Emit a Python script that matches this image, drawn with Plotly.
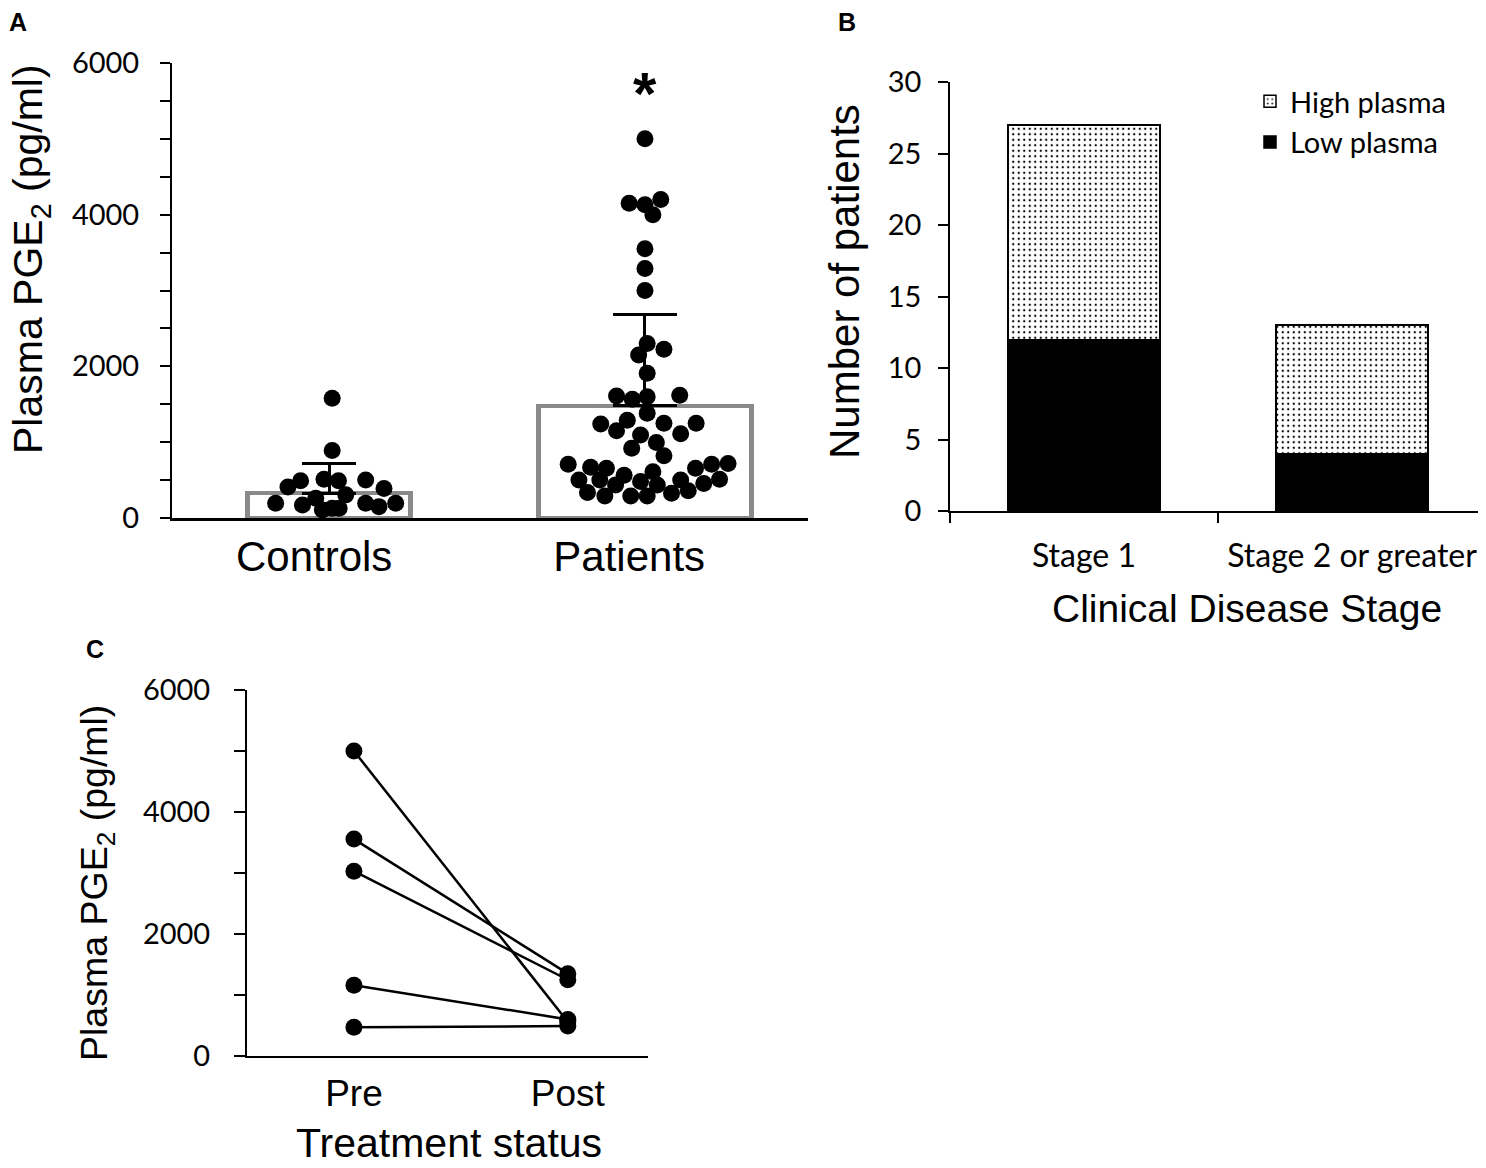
import plotly.graph_objects as go

# --- Panel A: plasma PGE2 in controls and patients ---
GROUPS = ["Controls", "Patients"]
BAR_MEAN = [328, 1478]
BAR_SEM = [392, 1210]

CONTROLS_PGE2 = [1580, 890, 410, 490, 510, 490, 500, 390, 195, 170,
                 260, 305, 195, 150, 195, 130, 105, 130]
CONTROLS_JITTER = [0.01, 0.01, -0.13, -0.09, -0.016, 0.03, 0.116, 0.174, -0.169, -0.084,
                   -0.042, 0.053, 0.116, 0.158, 0.211, 0.01, -0.021, 0.032]

PATIENTS_PGE2 = [5000, 4150, 4130, 4200, 4000, 3550, 3290, 3000,
                 2300, 2225, 2150, 1910, 1610, 1565, 1600, 1620, 1380, 1240, 1290,
                 1150, 1095, 1250, 1110, 1250, 920, 995, 820,
                 710, 670, 655, 500, 500, 435, 565, 480, 610, 435, 500, 655,
                 455, 710, 510, 720, 335, 290, 290, 290, 325, 360]
PATIENTS_JITTER = [0.0, -0.05, 0.0, 0.05, 0.025, 0.0, 0.0, 0.0,
                   0.007, 0.06, -0.02, 0.007, -0.09, -0.04, 0.007, 0.11, 0.007, -0.14, -0.056,
                   -0.09, -0.014, 0.06, 0.113, 0.162, -0.042, 0.036, 0.06,
                   -0.243, -0.172, -0.122, -0.209, -0.143, -0.093, -0.066, -0.014, 0.025, 0.039, 0.113, 0.16,
                   0.186, 0.211, 0.236, 0.263, -0.182, -0.127, -0.045, 0.007, 0.084, 0.137]

# --- Panel B: patients by clinical stage ---
STAGES = ["Stage 1", "Stage 2 or greater"]
LOW_PLASMA = [12, 4]
HIGH_PLASMA = [15, 9]

# --- Panel C: paired pre / post treatment ---
TREATMENT = ["Pre", "Post"]
PRE_PGE2 = [5000, 3556, 3030, 1160, 470]
POST_PGE2 = [560, 1350, 1250, 600, 490]

# page body has an 8px margin, so the figure is drawn 8px in from the window edge
PAGE_PAD = 8
W, H = 1486 - PAGE_PAD, 1168 - PAGE_PAD
TICK_FONT = "Lato"
LABEL_FONT = "Liberation Sans"


def px_x(v):
    # screen pixel -> paper fraction
    return (v - PAGE_PAD) / W


def px_y(v):
    return 1 - (v - PAGE_PAD) / H


fig = go.Figure()

# A: open grey bars with upward SEM bars
bar_widths = [0.517, 0.673]
err_widths = [27, 32]
for i, g in enumerate(GROUPS):
    fig.add_trace(go.Bar(
        x=[i], y=[BAR_MEAN[i]], width=[bar_widths[i]],
        marker=dict(color="rgba(255,255,255,0)", line=dict(color="#8a8a8a", width=4.5)),
        error_y=dict(type="data", array=[BAR_SEM[i]], arrayminus=[0], symmetric=False,
                     color="black", thickness=3, width=err_widths[i]),
        showlegend=False, xaxis="x", yaxis="y", name=g,
    ))

dot = dict(color="black", size=17)
fig.add_trace(go.Scatter(
    x=[0 + j for j in CONTROLS_JITTER], y=CONTROLS_PGE2, mode="markers",
    marker=dot, showlegend=False, cliponaxis=False, xaxis="x", yaxis="y", name="Controls",
))
fig.add_trace(go.Scatter(
    x=[1 + j for j in PATIENTS_JITTER], y=PATIENTS_PGE2, mode="markers",
    marker=dot, showlegend=False, cliponaxis=False, xaxis="x", yaxis="y", name="Patients",
))

# B: stacked bars
fig.add_trace(go.Bar(
    x=STAGES, y=LOW_PLASMA, name="Low plasma", width=0.567,
    marker=dict(color="black", line=dict(color="black", width=1.5)),
    xaxis="x2", yaxis="y2",
))
fig.add_trace(go.Bar(
    x=STAGES, y=HIGH_PLASMA, name="High plasma", width=0.567,
    marker=dict(color="white", line=dict(color="black", width=1.5),
                pattern=dict(shape=".", fgcolor="black", bgcolor="white",
                             size=5.5, solidity=0.13, fillmode="replace")),
    xaxis="x2", yaxis="y2",
))

# C: paired lines
for pre, post in zip(PRE_PGE2, POST_PGE2):
    fig.add_trace(go.Scatter(
        x=TREATMENT, y=[pre, post], mode="lines+markers",
        line=dict(color="black", width=2.5), marker=dict(color="black", size=17),
        showlegend=False, cliponaxis=False, xaxis="x3", yaxis="y3",
    ))

axis_common = dict(showgrid=False, zeroline=False, showline=True, linecolor="black",
                   tickcolor="black", automargin=False)


def label(text, x, y, size, angle=0, bold=False, anchor=("center", "middle")):
    return dict(text=f"<b>{text}</b>" if bold else text, x=px_x(x), y=px_y(y),
                xref="paper", yref="paper", xanchor=anchor[0], yanchor=anchor[1],
                textangle=angle, showarrow=False,
                font=dict(family=LABEL_FONT, size=size, color="black"))


fig.update_layout(
    width=W, height=H,
    margin=dict(l=0, r=0, t=0, b=0),
    paper_bgcolor="white", plot_bgcolor="white",
    barmode="stack",
    font=dict(family=LABEL_FONT, color="black"),
    xaxis=dict(**axis_common, domain=[px_x(172), px_x(808)], anchor="y",
               range=[-0.497, 1.516], tickvals=[-0.047, 0.95], ticktext=GROUPS,
               ticks="", linewidth=2.5, ticklabelstandoff=0,
               tickfont=dict(family=LABEL_FONT, size=42)),
    yaxis=dict(**axis_common, domain=[px_y(518), px_y(63)], anchor="x",
               range=[0, 6000], tickvals=list(range(0, 6001, 500)),
               ticktext=[str(v) if v % 2000 == 0 else "" for v in range(0, 6001, 500)],
               ticks="outside", ticklen=10, tickwidth=2, linewidth=2, ticklabelstandoff=15,
               tickfont=dict(family=TICK_FONT, size=29)),
    xaxis2=dict(**axis_common, domain=[px_x(950), 1.0], anchor="y2",
                type="category", range=[-0.5, 1.5], tickson="boundaries",
                ticks="outside", ticklen=10, tickwidth=1.5, linewidth=1.5, ticklabelstandoff=16,
                tickfont=dict(family=TICK_FONT, size=32)),
    yaxis2=dict(**axis_common, domain=[px_y(511), px_y(82)], anchor="x2",
                range=[0, 30], dtick=5, ticks="outside", ticklen=10, tickwidth=1.5,
                linewidth=1.5, ticklabelstandoff=11,
                tickfont=dict(family=TICK_FONT, size=29)),
    xaxis3=dict(**axis_common, domain=[px_x(247), px_x(648)], anchor="y3",
                type="category", range=[-0.5, 1.375], ticks="", linewidth=2,
                ticklabelstandoff=4, tickfont=dict(family=LABEL_FONT, size=37)),
    yaxis3=dict(**axis_common, domain=[px_y(1056), px_y(690)], anchor="x3",
                range=[0, 6000], tickvals=list(range(0, 6001, 1000)),
                ticktext=[str(v) if v % 2000 == 0 else "" for v in range(0, 6001, 1000)],
                ticks="outside", ticklen=11, tickwidth=2, linewidth=2, ticklabelstandoff=18,
                tickfont=dict(family=TICK_FONT, size=29)),
    legend=dict(x=px_x(1250), y=px_y(76), xanchor="left", yanchor="top",
                traceorder="reversed", bgcolor="rgba(0,0,0,0)",
                font=dict(family=TICK_FONT, size=29)),
    annotations=[
        label("A", 18, 22, 25, bold=True),
        label("B", 847, 22, 25, bold=True),
        label("C", 95, 649, 25, bold=True),
        # axis titles
        label("Plasma PGE<sub>2</sub> (pg/ml)", 31, 259, 41, angle=-90),
        label("Number of patients", 845, 282, 42, angle=-90),
        label("Clinical Disease Stage", 1247, 608, 39),
        label("Plasma PGE<sub>2</sub> (pg/ml)", 97, 883, 37.5, angle=-90),
        label("Treatment status", 449, 1143, 41),
        # significance marker
        dict(text="<b>*</b>", x=1.0, y=5600, xref="x", yref="y",
             xanchor="center", yanchor="middle", showarrow=False,
             font=dict(family=LABEL_FONT, size=60, color="black")),
    ],
)

fig.write_html("out.html")
